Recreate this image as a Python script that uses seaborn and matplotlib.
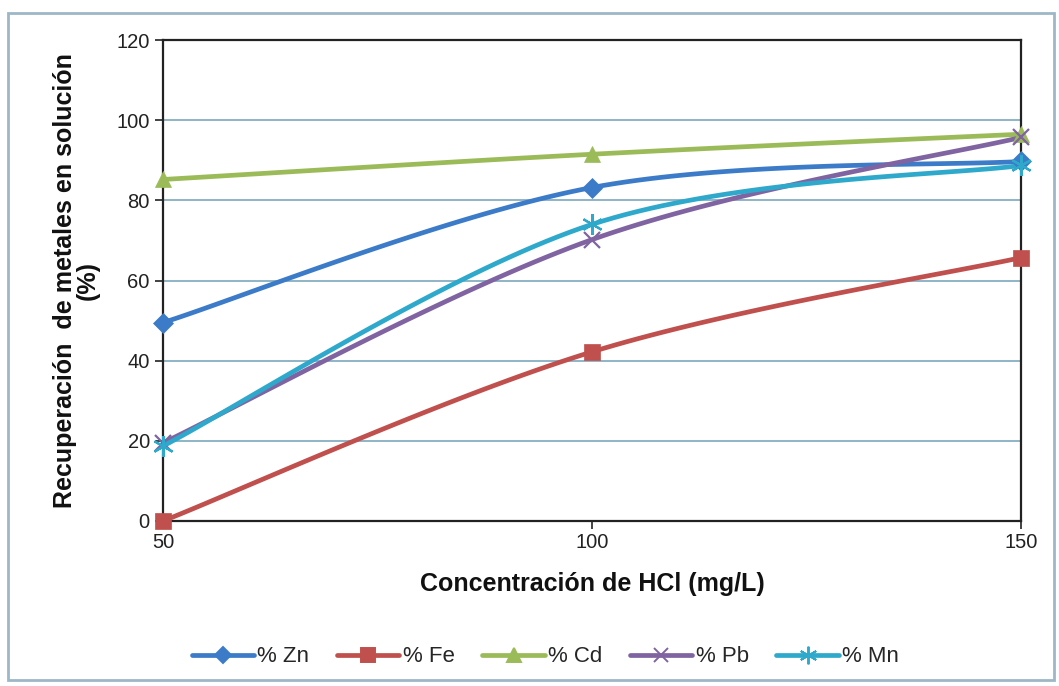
import numpy as np
import pandas as pd
import matplotlib
matplotlib.use("Agg")
import matplotlib.pyplot as plt
import seaborn as sns
from matplotlib.lines import Line2D
from matplotlib.patches import Rectangle

# ---- data ----
conc = [50, 100, 150]
zn = [49.5, 83.2, 89.7]
fe = [0.0, 42.2, 65.7]
cd = [85.2, 91.5, 96.5]
pb = [19.5, 70.2, 95.7]
mn = [18.7, 74.0, 88.7]
labels = ["% Zn", "% Fe", "% Cd", "% Pb", "% Mn"]
series = [zn, fe, cd, pb, mn]
colors = ["#3C7BC8", "#C0504D", "#9BBB59", "#8064A2", "#2EA9CB"]
markers = ["D", "s", "^", "x", (6, 2, 0)]
msizes = [10, 12, 12, 12, 15]

sns.set_theme(style="white")
plt.rcParams["font.family"] = ["Liberation Sans", "DejaVu Sans"]

fig = plt.figure(figsize=(10.59, 6.86), dpi=100)
ax = fig.add_axes([163/1059, 1-521/686, (1021-163)/1059, (521-40)/686])


def excel_smooth(x, y, n=40):
    """Bezier smoothing similar to spreadsheet 'smoothed line'."""
    x = np.asarray(x, float); y = np.asarray(y, float)
    P = np.column_stack([x, y])
    out = []
    for i in range(len(P) - 1):
        p0 = P[i - 1] if i > 0 else P[i]
        p1 = P[i]; p2 = P[i + 1]
        p3 = P[i + 2] if i + 2 < len(P) else P[i + 1]
        c1 = p1 + (p2 - p0) / 6
        c2 = p2 - (p3 - p1) / 6
        t = np.linspace(0, 1, n)[:, None]
        b = (1-t)**3*p1 + 3*(1-t)**2*t*c1 + 3*(1-t)*t**2*c2 + t**3*p2
        out.append(b if i == 0 else b[1:])
    return np.vstack(out)

rows = []
for lab, vals in zip(labels, series):
    for c, v in zip(conc, vals):
        rows.append({"conc": c, "val": v, "serie": lab})
df = pd.DataFrame(rows)

for lab, vals, col in zip(labels, series, colors):
    curve = excel_smooth(conc, vals)
    ax.plot(curve[:, 0], curve[:, 1], color=col, lw=3.4, solid_capstyle="round",
            zorder=3, clip_on=False)

for lab, col, mk, ms in zip(labels, colors, markers, msizes):
    sub = df[df["serie"] == lab]
    thin = mk == "x" or isinstance(mk, tuple)
    ax.plot(sub["conc"], sub["val"], linestyle="none", marker=mk, markersize=ms,
            color=col, markeredgecolor=col, markeredgewidth=1.6 if thin else 0.5,
            zorder=4, clip_on=False)

ax.set_xlim(50, 150)
ax.set_ylim(0, 120)
ax.set_xticks([50, 100, 150])
ax.set_yticks(np.arange(0, 121, 20))
ax.yaxis.grid(True, color="#86AFC2", lw=1.3)
ax.xaxis.grid(False)
for s in ax.spines.values():
    s.set_color("#222222"); s.set_linewidth(1.6)
ax.tick_params(axis="both", which="major", labelsize=14.5, colors="#222222",
               direction="out", length=6, width=1.2, left=True, bottom=True)
ax.tick_params(axis="x", pad=3)
ax.set_xlabel("Concentración de HCl (mg/L)", fontsize=18, fontweight="bold",
              labelpad=14, color="#111111")
ax.set_ylabel("Recuperación  de metales en solución\n(%)", fontsize=18,
              fontweight="bold", labelpad=12, color="#111111", linespacing=0.95)

handles = [Line2D([0], [0], color=c, lw=3.4, marker=m, markersize=ms*0.85,
                  markeredgecolor=c, markeredgewidth=1.4)
           for c, m, ms in zip(colors, markers, msizes)]
fig.legend(handles, labels, loc="center", bbox_to_anchor=(0.515, 1-657/686),
           ncol=5, frameon=False, fontsize=16, handlelength=2.8,
           handletextpad=0.15, columnspacing=1.25)

fig.patches.append(Rectangle((8/1059, 1-680/686), (1054-8)/1059, (680-13)/686,
                             transform=fig.transFigure, fill=False,
                             edgecolor="#9DB7C8", lw=2, zorder=0))

fig.savefig("out.png", dpi=100)
